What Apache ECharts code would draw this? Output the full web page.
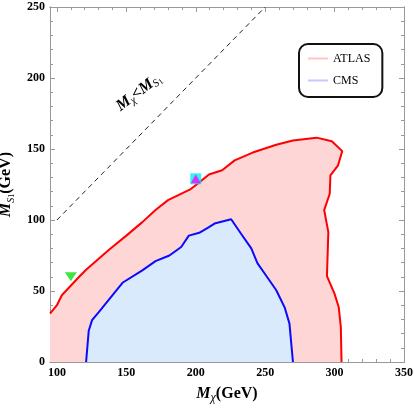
<!DOCTYPE html>
<html>
<head>
<meta charset="utf-8">
<script src="https://cdn.jsdelivr.net/npm/echarts@6/dist/echarts.min.js"></script>
<style>
  html, body { margin: 0; padding: 0; background: #fff; }
  #main { width: 415px; height: 409px; }
</style>
</head>
<body>
<div id="main"></div>
<script>
// axis ticks
const xMajor = [100, 150, 200, 250, 300, 350]
const xMinor = [100, 110, 120, 130, 140, 150, 160, 170, 180, 190, 200, 210, 220, 230, 240, 250, 260, 270, 280, 290, 300, 310, 320, 330, 340, 350]
const yMajor = [0, 50, 100, 150, 200, 250]
const yMinor = [0, 10, 20, 30, 40, 50, 60, 70, 80, 90, 100, 110, 120, 130, 140, 150, 160, 170, 180, 190, 200, 210, 220, 230, 240, 250]

// ATLAS exclusion contour (M_chi, M_S1)
const atlasX = [95, 100, 103.5, 115.5, 121, 137.5, 150, 161.5, 171, 180, 196, 202.5, 209.5, 219, 228, 241, 258, 270, 287, 298, 305.5, 302.5, 297, 296.5, 292.5, 295.5, 294.5, 300, 303, 304.5, 305]
const atlasY = [34, 40, 47, 59.5, 65, 79, 89, 98.5, 107, 114, 121.5, 126.5, 132, 135, 142, 147.5, 153, 156, 158, 155.5, 148.5, 138.5, 131.5, 118.5, 107, 91.5, 60.5, 48, 38.5, 24.5, 0]

// CMS exclusion contour
const cmsX = [121, 122.9, 125.3, 130, 147.5, 161.5, 171, 181, 189.5, 195, 202.5, 209.5, 213.5, 225.5, 232.5, 240, 244.5, 249.5, 258, 264, 267.5, 270]
const cmsY = [0, 22, 29.5, 35, 56, 64.5, 71, 75, 81, 89, 91, 95, 97.5, 100.5, 90.5, 80, 69.5, 62.5, 50.5, 38.5, 27, 0]

// diagonal M_chi = M_S1
const diagX = [100, 250]
const diagY = [100, 250]

// benchmark points
const greenPt = [110, 60]
const cyanPt = [200, 129]

const serif = 'Liberation Serif'
const frame = '#999'

function pairs(xs, ys) {
  return xs.map((x, i) => [x, ys[i]])
}

const atlasLine = pairs(atlasX, atlasY)
const cmsLine = pairs(cmsX, cmsY)
const atlasFill = atlasLine.concat([[atlasX[0], 0]])
const cmsFill = cmsLine.slice()

function polygonSeries(name, pts, color) {
  return {
    name: name,
    type: 'custom',
    silent: true,
    z: 1,
    clip: true,
    data: [0],
    renderItem: function (params, api) {
      return {
        type: 'polygon',
        shape: { points: pts.map(p => api.coord(p)) },
        style: { fill: color, stroke: null }
      }
    }
  }
}

function makeAxis(kind, pos, ticks, len, showLabel, extra) {
  const a = {
    type: 'value',
    position: pos,
    min: kind === 'x' ? 95 : 0,
    max: kind === 'x' ? 350 : 250,
    splitLine: { show: false },
    axisLine: { show: true, onZero: false, lineStyle: { color: frame, width: 1 } },
    axisTick: { show: true, inside: true, length: len, customValues: ticks, lineStyle: { color: frame } },
    axisLabel: {
      show: showLabel,
      customValues: ticks,
      fontFamily: serif,
      fontWeight: 'bold',
      fontSize: 12,
      color: '#000',
      margin: 5
    }
  }
  return Object.assign(a, extra || {})
}

const chartDom = document.getElementById('main')
const myChart = echarts.init(chartDom)

const option = {
  animation: false,
  grid: { left: 50, right: 11, top: 7, bottom: 47, containLabel: false, outerBoundsMode: 'none' },
  legend: {
    orient: 'vertical',
    left: 299,
    top: 44,
    padding: [8, 12, 10, 9],
    itemGap: 9,
    itemWidth: 20,
    itemHeight: 2,
    borderColor: '#111',
    borderWidth: 2,
    borderRadius: 9,
    textStyle: { fontFamily: serif, fontSize: 12, lineHeight: 13, color: '#000' },
    data: [
      { name: 'ATLAS', icon: 'rect', itemStyle: { color: '#ffc4c4' } },
      { name: 'CMS', icon: 'rect', itemStyle: { color: '#c4c8ff' } }
    ]
  },
  xAxis: [
    makeAxis('x', 'bottom', xMajor, 5, true, {
      name: '{m|M}{s|χ}{n|(GeV)}',
      nameLocation: 'middle',
      nameGap: 22,
      nameTextStyle: {
        color: '#000',
        rich: {
          m: { color: '#000', fontFamily: serif, fontWeight: 'bold', fontStyle: 'italic', fontSize: 16, lineHeight: 20 },
          s: { color: '#000', fontFamily: serif, fontStyle: 'italic', fontSize: 12, lineHeight: 12, verticalAlign: 'bottom' },
          n: { color: '#000', fontFamily: serif, fontWeight: 'bold', fontSize: 16, lineHeight: 20 }
        }
      }
    }),
    makeAxis('x', 'bottom', xMinor, 3, false),
    makeAxis('x', 'top', xMajor, 5, false),
    makeAxis('x', 'top', xMinor, 3, false)
  ],
  yAxis: [
    makeAxis('y', 'left', yMajor, 5, true, {
      name: '{m|M}{s|S}{t|1}{n|(GeV)}',
      nameLocation: 'middle',
      nameGap: 28,
      nameRotate: 90,
      nameTextStyle: {
        color: '#000',
        rich: {
          m: { color: '#000', fontFamily: serif, fontWeight: 'bold', fontStyle: 'italic', fontSize: 16, lineHeight: 20 },
          s: { color: '#000', fontFamily: serif, fontStyle: 'italic', fontSize: 10, lineHeight: 12, verticalAlign: 'bottom' },
          t: { color: '#000', fontFamily: serif, fontSize: 8, lineHeight: 8, verticalAlign: 'bottom' },
          n: { color: '#000', fontFamily: serif, fontWeight: 'bold', fontSize: 16, lineHeight: 20 }
        }
      }
    }),
    makeAxis('y', 'left', yMinor, 3, false),
    makeAxis('y', 'right', yMajor, 5, false),
    makeAxis('y', 'right', yMinor, 3, false)
  ],
  series: [
    polygonSeries('atlasFill', atlasFill, '#ffd6d6'),
    polygonSeries('cmsFill', cmsFill, '#d9eafc'),
    {
      name: 'ATLAS',
      type: 'line',
      z: 3,
      showSymbol: false,
      clip: true,
      lineStyle: { color: '#ff0000', width: 2 },
      itemStyle: { color: '#ff0000' },
      data: atlasLine
    },
    {
      name: 'CMS',
      type: 'line',
      z: 3,
      showSymbol: false,
      clip: true,
      lineStyle: { color: '#0a0aff', width: 2 },
      itemStyle: { color: '#0a0aff' },
      data: cmsLine
    },
    {
      name: 'diag',
      type: 'line',
      z: 2,
      showSymbol: false,
      clip: true,
      lineStyle: { color: '#222', width: 1, type: [5, 4] },
      data: pairs(diagX, diagY)
    },
    {
      name: 'green',
      type: 'scatter',
      z: 5,
      symbol: 'triangle',
      symbolRotate: 180,
      symbolSize: [12, 9],
      itemStyle: { color: '#10e010' },
      data: [greenPt]
    },
    {
      name: 'cyan',
      type: 'scatter',
      z: 5,
      symbol: 'rect',
      symbolSize: 11,
      itemStyle: { color: '#00f0f0' },
      data: [cyanPt]
    },
    {
      name: 'magenta',
      type: 'scatter',
      z: 6,
      symbol: 'triangle',
      symbolSize: [10, 9],
      itemStyle: { color: '#ff00ff' },
      data: [cyanPt]
    }
  ]
}
option && myChart.setOption(option)

// rotated region label, placed through the axis scales
const labelAt = myChart.convertToPixel({ xAxisIndex: 0, yAxisIndex: 0 }, [159, 190])
myChart.setOption({
  graphic: [{
    type: 'text',
    x: labelAt[0],
    y: labelAt[1],
    rotation: 37 * Math.PI / 180,
    z: 10,
    style: {
      text: '{m|M}{s|χ}{m|<M}{s|S}{t|1}',
      align: 'center',
      verticalAlign: 'middle',
      rich: {
        m: { fontFamily: serif, fontWeight: 'bold', fontStyle: 'italic', fontSize: 16, lineHeight: 18 },
        s: { fontFamily: serif, fontStyle: 'italic', fontSize: 11, lineHeight: 11, verticalAlign: 'bottom' },
        t: { fontFamily: serif, fontSize: 8, lineHeight: 8, verticalAlign: 'bottom' }
      }
    }
  }]
})
</script>
</body>
</html>
